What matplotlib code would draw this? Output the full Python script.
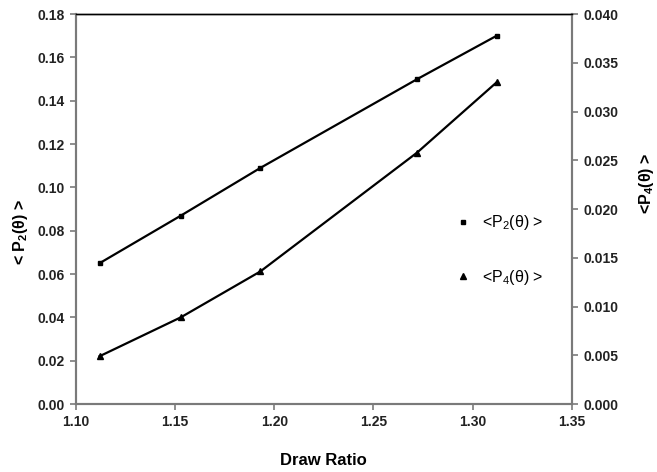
import matplotlib
matplotlib.use("Agg")
from matplotlib import pyplot as plt
from matplotlib.lines import Line2D

plt.rcParams['font.family'] = ['Liberation Sans', 'DejaVu Sans']
plt.rcParams['mathtext.default'] = 'regular'

draw_ratio = [1.112, 1.153, 1.193, 1.272, 1.312]
p2 = [0.065, 0.087, 0.109, 0.150, 0.170]
p4 = [0.0049, 0.0089, 0.0136, 0.0258, 0.0330]

x_ticks = [1.10, 1.15, 1.20, 1.25, 1.30, 1.35]
left_ticks = [0.00, 0.02, 0.04, 0.06, 0.08, 0.10, 0.12, 0.14, 0.16, 0.18]
right_ticks = [0.000, 0.005, 0.010, 0.015, 0.020, 0.025, 0.030, 0.035, 0.040]


def data_plot():
    fig = plt.figure(figsize=(6.57, 4.72), dpi=100)
    ax = fig.add_axes([0.1152, 0.144, 0.7554, 0.826])
    ax2 = ax.twinx()

    ax.plot(draw_ratio, p2, color='black', lw=1.6, marker='s', ms=2.5)
    ax2.plot(draw_ratio, p4, color='black', lw=1.6, marker='^', ms=4.5)

    ax.set_xlim(1.10, 1.35)
    ax.set_ylim(0, 0.18)
    ax2.set_ylim(0, 0.04)
    ax.set_xticks(x_ticks)
    ax.set_xticklabels(["%.2f" % v for v in x_ticks])
    ax.set_yticks(left_ticks)
    ax.set_yticklabels(["%.2f" % v for v in left_ticks])
    ax2.set_yticks(right_ticks)
    ax2.set_yticklabels(["%.3f" % v for v in right_ticks])

    for a in (ax, ax2):
        for side in ('left', 'right', 'bottom'):
            a.spines[side].set_color('#7a7a7a')
            a.spines[side].set_linewidth(1.5)
        a.spines['top'].set_color('black')
        a.spines['top'].set_linewidth(1.0)
        a.tick_params(direction='out', length=4, width=1.2, color='#7a7a7a',
                      labelsize=10, colors='#222222', pad=4)
        for lab in a.get_xticklabels() + a.get_yticklabels():
            lab.set_fontweight('bold')

    ax.set_xlabel("Draw Ratio", fontsize=12, fontweight='bold')
    ax.xaxis.set_label_coords(0.5, -0.125)
    ax.set_ylabel("< P$_2$(θ) >", fontsize=11.5, fontweight='bold')
    ax.yaxis.set_label_coords(-0.092, 0.44)
    ax2.set_ylabel("<P$_4$(θ) >", fontsize=11.5, fontweight='bold')
    ax2.yaxis.set_label_coords(1.132, 0.565)

    handles = [
        Line2D([], [], ls='none', marker='s', ms=2.5, color='black'),
        Line2D([], [], ls='none', marker='^', ms=4.5, color='black'),
    ]
    ax2.legend(handles, ["<P$_2$(θ) >", "<P$_4$(θ) >"], frameon=False,
               fontsize=11.5, labelspacing=2.2, handlelength=1.0,
               handletextpad=0.7, loc='center left',
               bbox_to_anchor=(0.735, 0.395))

    fig.savefig("out.png", dpi=100)
    return ax


if __name__ == '__main__':
    data_plot()
